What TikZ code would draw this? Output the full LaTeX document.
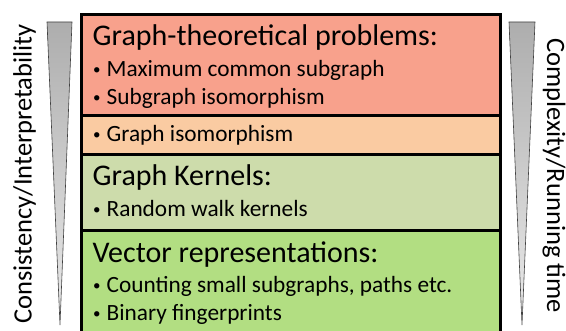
\documentclass[tikz,border=0pt]{standalone}
\usepackage{fontspec}
\setmainfont{Carlito}
\definecolor{probred}{RGB}{248,161,140}
\definecolor{isoorange}{RGB}{250,203,162}
\definecolor{kernelgreen}{RGB}{205,220,171}
\definecolor{vecgreen}{RGB}{178,222,130}
\newcommand{\bul}[1]{\makebox[15.5pt][l]{\hspace{2pt}\raisebox{2pt}{\fontsize{15}{15}\selectfont\textbullet}}#1}
\begin{document}
\begin{tikzpicture}[x=1pt, y=-1pt, font=\fontsize{23.3}{28}\selectfont]
      \tikzset{band/.style={draw, line width=2.6pt, minimum width=419pt, anchor=north west, inner sep=0pt},
               head/.style={anchor=base west, inner sep=0pt, font=\fontsize{30}{36}\selectfont},
               item/.style={anchor=base west, inner sep=0pt},
               side/.style={anchor=base, inner sep=0pt, font=\fontsize{26.5}{32}\selectfont},
               wedge/.style={draw=black!75, line width=0.6pt, top color=black!32, bottom color=black!8}}
      \useasboundingbox (0,0) rectangle (566,331);
      % bands, from hardest to simplest
      \node[band, fill=probred, minimum height=100.5pt] (gtp) at (80,13.5) {};
      \node[band, fill=isoorange, minimum height=39.5pt] (giso) at (80,114) {};
      \node[band, fill=kernelgreen, minimum height=76pt] (kern) at (80,153.5) {};
      \node[band, fill=vecgreen, minimum height=120pt] (vec) at (80,229.5) {};
      % texts
      \node[head] (gtphead) at (92.5,46) {Graph-theoretical problems:};
      \node[item] (mcs) at (91,77) {\bul{Maximum common subgraph}};
      \node[item] (subiso) at (91,105) {\bul{Subgraph isomorphism}};
      \node[item] (iso) at (91,142) {\bul{Graph isomorphism}};
      \node[head] (kernhead) at (92.5,186) {Graph Kernels:};
      \node[item] (rw) at (91,217) {\bul{Random walk kernels}};
      \node[head] (vechead) at (92.5,263) {Vector representations:};
      \node[item] (count) at (91,293) {\bul{Counting small subgraphs, paths etc.}};
      \node[item] (fp) at (91,321) {\bul{Binary fingerprints}};
      % side wedges
      \shade[wedge] (47,22) -- (72,22) -- (60,325) -- cycle;
      \shade[wedge] (509,22) -- (535,22) -- (522,325) -- cycle;
      \node[side, rotate=90] (consist) at (31.5,174) {Consistency/Interpretability};
      \node[side, rotate=-90] (compl) at (547,175.5) {Complexity/Running time};
\end{tikzpicture}
\end{document}
